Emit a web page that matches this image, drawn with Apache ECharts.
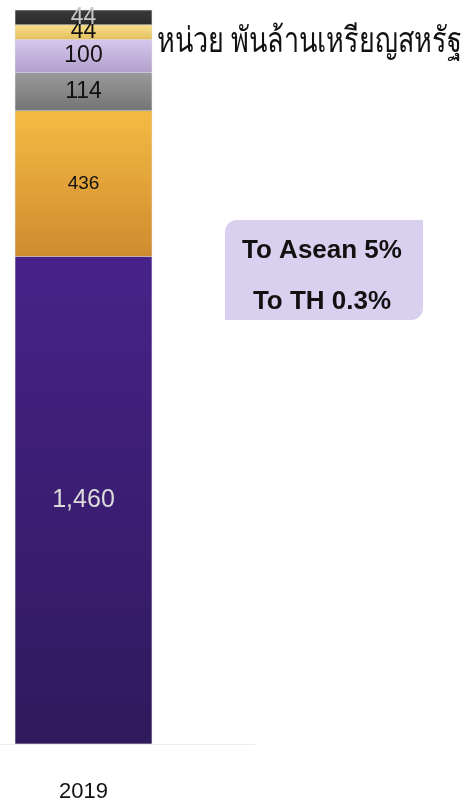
<!DOCTYPE html>
<html><head><meta charset="utf-8">
<script src="https://cdn.jsdelivr.net/npm/echarts@6/dist/echarts.min.js"></script>
<style>html,body{margin:0;padding:0;background:#fff}#c{width:469px;height:806px}</style>
</head><body><div id="c"></div>
<script>
const categories = ['2019'];
const seriesNames = ['s1','s2','s3','s4','s5','s6'];
const seriesValues = [[1460],[436],[114],[100],[44],[44]];
const labelTexts = ['1,460','436','114','100','44','44'];
const unitText = 'หน่วย พันล้านเหรียญสหรัฐ';
const noteLines = ['To Asean 5%','To TH 0.3%'];

const total = seriesValues.reduce((a,v)=>a+v[0],0);
const grad = (a,b)=>new echarts.graphic.LinearGradient(0,0,0,1,[{offset:0,color:a},{offset:1,color:b}]);
const colors = [grad('#48228a','#2f1a5c'), grad('#f5ba43','#d08b2f'), grad('#9a9a9a','#747474'),
  grad('#d6c8ee','#b09fca'), grad('#f7df8c','#e6c05c'), grad('#3a3a3a','#2a2a2a')];
const FONT = '"Liberation Sans", Arial, sans-serif';
const labelStyles = [
  {color:'#dcdcdc', fontSize:25},
  {color:'#111', fontSize:19},
  {color:'#111', fontSize:23},
  {color:'#111', fontSize:23},
  {color:'#111', fontSize:23},
  {color:'#c8c8c8', fontSize:23}
];
const chart = echarts.init(document.getElementById('c'));
chart.setOption({
  animation:false,
  grid:[{left:15,width:137,top:10,bottom:62},{left:0,width:255,top:10,bottom:62}],
  xAxis:[
    {type:'category',data:categories,gridIndex:0,axisLine:{show:false},axisTick:{show:false},
     axisLabel:{color:'#111',fontSize:22,fontFamily:FONT,margin:37}},
    {type:'category',data:[''],gridIndex:1,axisLine:{show:true,lineStyle:{color:'#eeeeee',width:1}},axisTick:{show:false},axisLabel:{show:false}}
  ],
  yAxis:[
    {type:'value',min:0,max:total,gridIndex:0,show:false},
    {type:'value',min:0,max:1,gridIndex:1,show:false}
  ],
  series: seriesValues.map((v,i)=>({
    type:'bar',name:seriesNames[i],stack:'t',data:v,barWidth:'100%',
    itemStyle:{color:colors[i],borderColor:'rgba(150,150,150,0.35)',borderWidth:0.5},
    label:{show:true,position:'inside',formatter:()=>labelTexts[i],fontFamily:FONT,
      color:labelStyles[i].color,fontSize:labelStyles[i].fontSize}
  })),
  graphic:[
    {type:'text',x:157,y:42,scaleY:1.3,style:{text:unitText,fontSize:27,fill:'#111',verticalAlign:'middle',fontFamily:'Noto Sans, DejaVu Sans, sans-serif'}},
    {type:'rect',shape:{x:225,y:220,width:198,height:100,r:[12,0,12,0]},style:{fill:'#d9cfee'}},
    {type:'text',x:322,y:251,style:{text:noteLines[0],fontSize:26,fontWeight:'bold',fill:'#111',align:'center',verticalAlign:'middle',fontFamily:FONT}},
    {type:'text',x:322,y:302,style:{text:noteLines[1],fontSize:26,fontWeight:'bold',fill:'#111',align:'center',verticalAlign:'middle',fontFamily:FONT}}
  ]
});
</script></body></html>
